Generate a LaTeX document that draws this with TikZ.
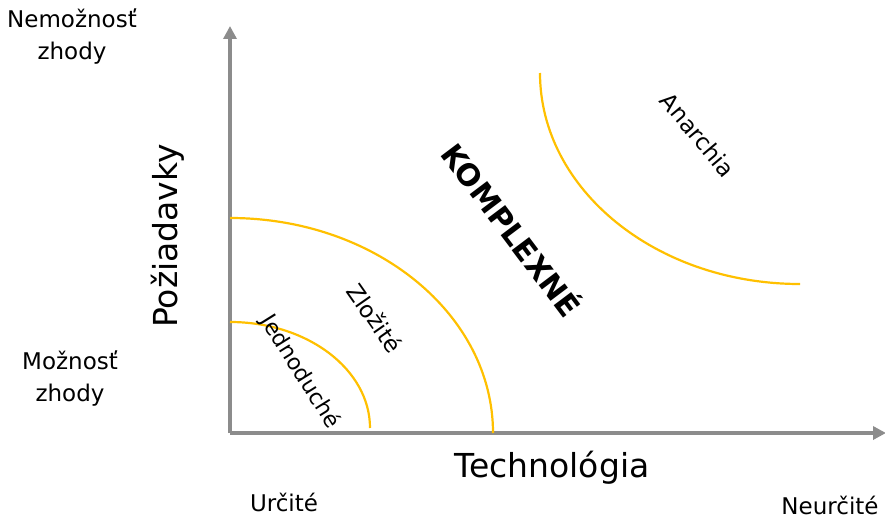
\documentclass[tikz,border=0pt]{standalone}
\usepackage{fontspec}
\setmainfont{DejaVu Sans}
\usetikzlibrary{arrows.meta}
\definecolor{axisgray}{HTML}{8C8C8C}
\definecolor{arcyellow}{HTML}{FFC000}
\tikzset{
  axis/.style={line width=4.5pt,axisgray,-{Triangle[length=13pt,width=13pt]}},
  zone/.style={line width=2.2pt,arcyellow},
  small/.style={font=\fontsize{23}{32}\selectfont,align=center},
  big/.style={font=\fontsize{33}{36}\selectfont}
}

\begin{document}
\begin{tikzpicture}[x=1pt,y=-1pt]
  \useasboundingbox (0,0) rectangle (885,519);
  \coordinate (origin) at (230,433);
  \coordinate (ytip) at (230,26);
  \coordinate (xtip) at (886,433);
  \draw[axis] (origin)--(ytip);
  \draw[axis] (origin)--(xtip);
  \draw[zone] (230,322) arc[start angle=-90,end angle=0,x radius=140,y radius=106];
  \draw[zone] (230,218) arc[start angle=-90,end angle=0,x radius=263,y radius=215];
  \draw[zone] (540,73) arc[start angle=180,end angle=90,x radius=260,y radius=211];
  \node[small] (nemoz) at (72,37) {Nemožnosť\\zhody};
  \node[small] (moz) at (70,379) {Možnosť\\zhody};
  \node[big,rotate=90] (poz) at (168,236) {Požiadavky};
  \node[big] (tech) at (552,468) {Technológia};
  \node[small] (urc) at (284,502) {Určité};
  \node[small] (neurc) at (830,505) {Neurčité};
  \node[font=\fontsize{30}{32}\selectfont\bfseries,rotate=-53] (kompl) at (513,229) {KOMPLEXNÉ};
  \node[small,rotate=-50] (anar) at (698,135) {Anarchia};
  \node[small,rotate=-55] (zloz) at (375,318) {Zložité};
  \node[font=\fontsize{22}{30}\selectfont,rotate=-58] (jedn) at (300,372) {Jednoduché};
\end{tikzpicture}
\end{document}
